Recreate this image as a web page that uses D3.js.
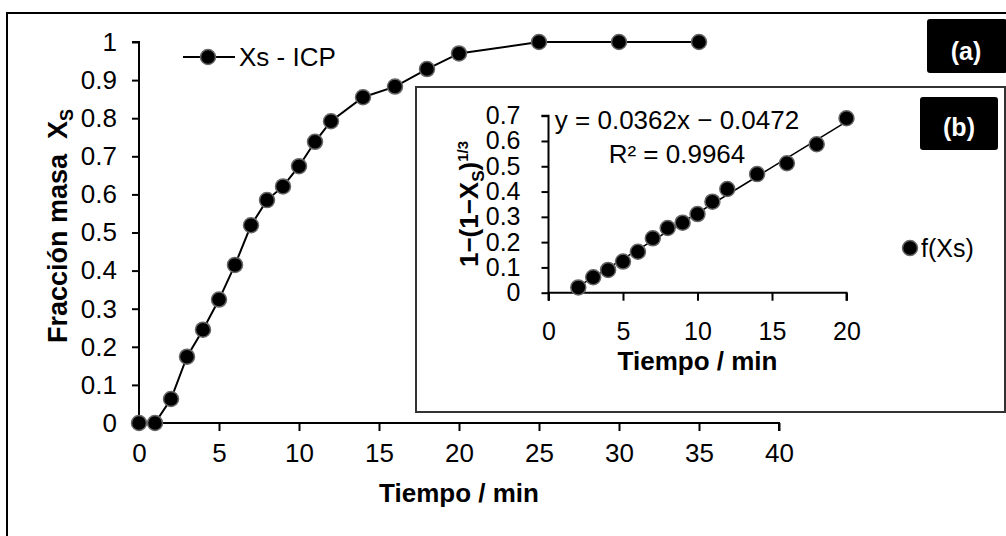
<!DOCTYPE html>
<html>
<head>
<meta charset="utf-8">
<script src="https://cdn.jsdelivr.net/npm/d3@7/dist/d3.min.js"></script>
<style>
  html, body { margin: 0; padding: 0; background: #fff; }
  svg { display: block; }
  text { font-family: "Liberation Sans", Arial, sans-serif; fill: #000; white-space: pre; }
</style>
</head>
<body>
<svg id="chart" width="1006" height="536"></svg>
<script>
// Mass fraction dissolved vs time (ICP)
const mainTime = [0, 1, 2, 3, 4, 5, 6, 7, 8, 9, 10, 11, 12, 14, 16, 18, 20, 25, 30, 35];
const mainFraction = [0, 0, 0.063, 0.174, 0.245, 0.324, 0.415, 0.519, 0.585, 0.621,
                      0.674, 0.738, 0.792, 0.855, 0.883, 0.929, 0.970, 1.0, 1.0, 1.0];
const mainXTicks = [0, 5, 10, 15, 20, 25, 30, 35, 40];
const mainYTicks = [0, 0.1, 0.2, 0.3, 0.4, 0.5, 0.6, 0.7, 0.8, 0.9, 1];

// Shrinking-core function f(Xs) = 1-(1-Xs)^(1/3)
const insetTime = [2, 3, 4, 5, 6, 7, 8, 9, 10, 11, 12, 14, 16, 18, 20];
const insetF = [0.021, 0.061, 0.090, 0.123, 0.162, 0.215, 0.256, 0.277, 0.311,
                0.360, 0.410, 0.469, 0.512, 0.587, 0.690];
const insetXTicks = [0, 5, 10, 15, 20];
const insetYTicks = [0, 0.1, 0.2, 0.3, 0.4, 0.5, 0.6, 0.7];

// Linear fit
const fitSlope = 0.0362;
const fitIntercept = -0.0472;
const fitRange = [2, 20];
const fitR2 = 0.9964;

const svg = d3.select("#chart");
const fmt = d => (d === 0 ? "0" : d === 1 ? "1" : d.toFixed(1));

// Outer frame
svg.append("rect")
  .attr("x", 7).attr("y", 13).attr("width", 1010).attr("height", 540)
  .attr("fill", "#fff").attr("stroke", "#000").attr("stroke-width", 2);

// ---------- Main panel ----------
const x = d3.scaleLinear().domain([0, 40]).range([139, 779]);
const y = d3.scaleLinear().domain([0, 1]).range([423, 42]);

const gx = svg.append("g").attr("transform", `translate(0,${y(0)})`)
  .call(d3.axisBottom(x).tickValues(mainXTicks).tickSize(8).tickPadding(13).tickFormat(d3.format("d")));
const gy = svg.append("g").attr("transform", `translate(${x(0)},0)`)
  .call(d3.axisLeft(y).tickValues(mainYTicks).tickSize(7).tickPadding(15).tickFormat(fmt));

[gx, gy].forEach(g => {
  g.select(".domain").attr("stroke", "#000").attr("stroke-width", 2);
  g.selectAll(".tick line").attr("stroke", "#000").attr("stroke-width", 2);
  g.selectAll(".tick text").attr("font-size", 26).attr("fill", "#000")
    .attr("font-family", "Liberation Sans, Arial, sans-serif");
});
gx.select(".domain").attr("d", `M${x(0)},8V0H${x(40)}V8`);
gy.select(".domain").attr("d", `M-7,${y(1)}H0V${y(0)}`);

// Axis titles
svg.append("text")
  .attr("x", (x(0) + x(40)) / 2).attr("y", 502)
  .attr("text-anchor", "middle").attr("font-size", 26).attr("font-weight", "bold")
  .text("Tiempo / min");

const yTitle = svg.append("text")
  .attr("transform", "translate(67,226) rotate(-90)")
  .attr("text-anchor", "middle").attr("font-size", 27).attr("font-weight", "bold");
yTitle.append("tspan").text("Fracción masa  X");
yTitle.append("tspan").attr("font-size", 18).attr("dy", 6).text("S");

// Curve + markers
const mainPts = mainTime.map((t, i) => [t, mainFraction[i]]);
svg.append("path")
  .attr("d", d3.line().x(d => x(d[0])).y(d => y(d[1]))(mainPts))
  .attr("fill", "none").attr("stroke", "#000").attr("stroke-width", 2);
svg.append("g").selectAll("circle").data(mainPts).join("circle")
  .attr("cx", d => x(d[0])).attr("cy", d => y(d[1])).attr("r", 7.5)
  .attr("fill", "#000").attr("stroke", "#666").attr("stroke-width", 1.5);

// Legend
const lg = svg.append("g");
lg.append("line").attr("x1", 183).attr("x2", 235).attr("y1", 57).attr("y2", 57)
  .attr("stroke", "#000").attr("stroke-width", 2);
lg.append("circle").attr("cx", 208).attr("cy", 57).attr("r", 7.5)
  .attr("fill", "#000").attr("stroke", "#666").attr("stroke-width", 1.5);
lg.append("text").attr("x", 239).attr("y", 66).attr("font-size", 26).text("Xs - ICP");

// Panel label (a)
svg.append("rect").attr("x", 927).attr("y", 19).attr("width", 80).attr("height", 54)
  .attr("rx", 3).attr("fill", "#000");
svg.append("text").attr("x", 966).attr("y", 60).attr("text-anchor", "middle")
  .attr("font-size", 25).attr("font-weight", "bold").style("fill", "#fff").text("(a)");

// ---------- Inset panel ----------
svg.append("rect").attr("x", 416).attr("y", 87).attr("width", 589).attr("height", 325)
  .attr("fill", "#fff").attr("stroke", "#333").attr("stroke-width", 2);

const ix = d3.scaleLinear().domain([0, 20]).range([548.5, 846.5]);
const iy = d3.scaleLinear().domain([0, 0.7]).range([292.7, 115.7]);

const igx = svg.append("g").attr("transform", `translate(0,${iy(0)})`)
  .call(d3.axisBottom(ix).tickValues(insetXTicks).tickSize(8).tickPadding(22).tickFormat(d3.format("d")));
const igy = svg.append("g").attr("transform", `translate(${ix(0)},0)`)
  .call(d3.axisLeft(iy).tickValues(insetYTicks).tickSize(7).tickPadding(21).tickFormat(fmt));

[igx, igy].forEach(g => {
  g.select(".domain").attr("stroke", "#000").attr("stroke-width", 2);
  g.selectAll(".tick line").attr("stroke", "#000").attr("stroke-width", 2);
  g.selectAll(".tick text").attr("font-size", 25).attr("fill", "#000")
    .attr("font-family", "Liberation Sans, Arial, sans-serif");
});
igx.select(".domain").attr("d", `M${ix(0)},8V0H${ix(20)}V8`);
igy.select(".domain").attr("d", `M-7,${iy(0.7)}H0V${iy(0)}`);

svg.append("text")
  .attr("x", (ix(0) + ix(20)) / 2).attr("y", 370)
  .attr("text-anchor", "middle").attr("font-size", 26).attr("font-weight", "bold")
  .text("Tiempo / min");

const iyTitle = svg.append("text")
  .attr("transform", "translate(478,204) rotate(-90)")
  .attr("text-anchor", "middle").attr("font-size", 26).attr("font-weight", "bold");
iyTitle.append("tspan").text("1−(1−X");
iyTitle.append("tspan").attr("font-size", 17).attr("dy", 6).text("S");
iyTitle.append("tspan").attr("dy", -6).text(")");
iyTitle.append("tspan").attr("font-size", 15).attr("dy", -10).text("1/3");

// Fit line
const fitPts = fitRange.map(t => [t, fitSlope * t + fitIntercept]);
svg.append("path")
  .attr("d", d3.line().x(d => ix(d[0])).y(d => iy(d[1]))(fitPts))
  .attr("fill", "none").attr("stroke", "#000").attr("stroke-width", 1.5);

const insetPts = insetTime.map((t, i) => [t, insetF[i]]);
svg.append("g").selectAll("circle").data(insetPts).join("circle")
  .attr("cx", d => ix(d[0])).attr("cy", d => iy(d[1])).attr("r", 7.5)
  .attr("fill", "#000").attr("stroke", "#666").attr("stroke-width", 1.5);

// Fit equation
svg.append("text").attr("x", 677).attr("y", 129).attr("text-anchor", "middle")
  .attr("font-size", 26)
  .text(`y = ${fitSlope}x − ${Math.abs(fitIntercept)}`);
svg.append("text").attr("x", 677).attr("y", 163).attr("text-anchor", "middle")
  .attr("font-size", 26)
  .text(`R² = ${fitR2}`);

// Inset legend
svg.append("circle").attr("cx", 910).attr("cy", 248).attr("r", 7.5)
  .attr("fill", "#000").attr("stroke", "#666").attr("stroke-width", 1.5);
svg.append("text").attr("x", 921).attr("y", 257).attr("font-size", 25).text("f(Xs)");

// Panel label (b)
svg.append("rect").attr("x", 920).attr("y", 97).attr("width", 78).attr("height", 53)
  .attr("rx", 3).attr("fill", "#000");
svg.append("text").attr("x", 959).attr("y", 136).attr("text-anchor", "middle")
  .attr("font-size", 25).attr("font-weight", "bold").style("fill", "#fff").text("(b)");
</script>
</body>
</html>
